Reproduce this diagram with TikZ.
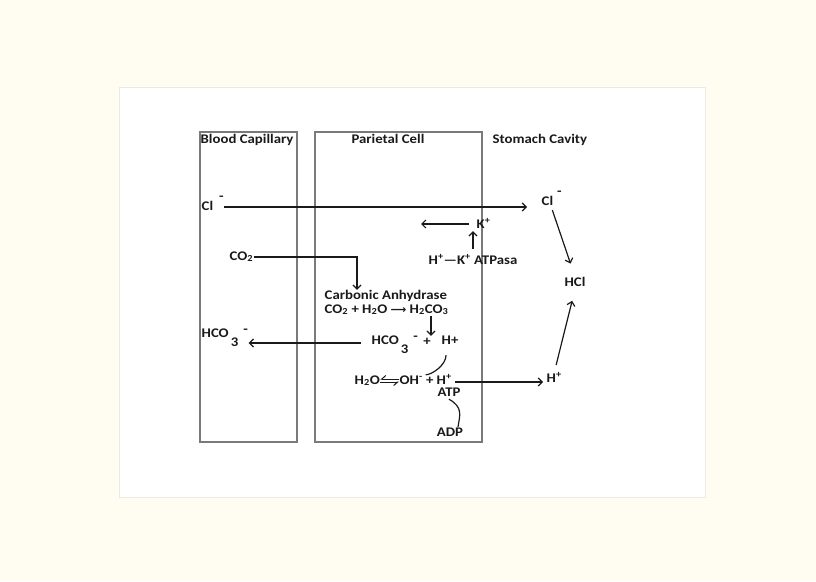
\documentclass[tikz,border=0pt]{standalone}
\usepackage{fontspec}
\setmainfont[FakeStretch=1.12]{Carlito}
\newfontfamily\arrowfont{DejaVu Sans}
\usetikzlibrary{arrows.meta}
\definecolor{pagebg}{HTML}{FFFDF2}
\definecolor{panelline}{HTML}{EAEAEA}
\definecolor{wallline}{HTML}{7A7A7A}
\definecolor{inkcol}{HTML}{1A1A1A}
\newcommand{\chg}{\raisebox{10pt}{-}}
\newcommand{\hcoion}{HCO\,\raisebox{-9pt}{3}\hspace{5pt}\raisebox{4pt}{-}}
\newcommand{\pl}{\textsuperscript{+}}
\begin{document}
\begin{tikzpicture}[x=1pt,y=-1pt,every node/.style={font=\fontsize{13.2}{15}\selectfont\bfseries,text=inkcol,inner sep=0.5pt,text height=8.5pt,text depth=2.5pt},wall/.style={draw=wallline,line width=1.1pt},arr/.style={draw=inkcol,line width=1.2pt,-{Straight Barb[length=4pt,width=8pt]}},link/.style={draw=inkcol,line width=1.2pt},harp/.style={draw=inkcol,line width=1pt,-{Straight Barb[right,length=4pt,width=7pt]}}]
\useasboundingbox (0,0) rectangle (816,581);
\fill[pagebg] (0,0) rectangle (816,581);
\draw[panelline,fill=white] (119,87) rectangle (705,497);
% compartments
\draw[wall] (200,132) rectangle (297,442);
\draw[wall] (315,132) rectangle (482,442);
\node[anchor=west] (blood) at (200,140) {Blood Capillary};
\node (cell) at (388,140) {Parietal Cell};
\node[anchor=west] (stomach) at (492,140) {Stomach Cavity};
% ions
\node[anchor=west] (clL) at (201,207) {Cl\hspace{6pt}\chg};
\node[anchor=west] (clR) at (541,202) {Cl\hspace{4pt}\chg};
\node (hcl) at (575,283) {HCl};
\node[anchor=west] (kion) at (476,225) {K\pl};
\node (pump) at (473,261) {H\pl—K\pl\ ATPasa};
\node[anchor=west] (co2) at (229,257) {CO\textsubscript{2}};
\node[anchor=west] (carb) at (324,296) {Carbonic Anhydrase};
\node[anchor=west] (rxn) at (324,310) {CO\textsubscript{2} + H\textsubscript{2}O {\arrowfont\fontsize{11}{12}\selectfont ⟶} H\textsubscript{2}CO\textsubscript{3}};
\node[anchor=west] (hcoL) at (201,334) {\hcoion};
\node[anchor=west] (hcoM) at (371,341) {\hcoion};
\node (plusM) at (427,342) {+};
\node[anchor=west] (hM) at (441,341) {H+};
\node[anchor=west] (h2o) at (354,381) {H\textsubscript{2}O};
\node[anchor=west] (ohH) at (399,381) {OH\textsuperscript{-} + H\pl};
\node[anchor=west] (hR) at (546,379) {H\pl};
\node (atp) at (449,393) {ATP};
\node (adp) at (450,433) {ADP};
\coordinate (kEnd) at (421,224);
% transport
\draw[arr,shorten >=14pt] (clL.east) -- (clL.east -| clR.west);
\draw[arr,shorten <=2pt,shorten >=14pt] (clR.south) -- (hcl.north);
\draw[arr,shorten <=8pt,shorten >=12pt] (hR.north) -- (hcl.south);
\draw[arr,shorten <=7pt] ([yshift=1pt]kion.west) -- (kEnd);
\draw[arr,shorten <=6pt] (pump.north) -- (pump.north |- kion.south);
\draw[arr] (co2.east) -| ([xshift=33pt]carb.north west);
\draw[arr] ([xshift=4pt]plusM.north |- rxn.south) -- ([xshift=4pt]plusM.north);
\draw[arr,shorten <=10pt] ([yshift=-2pt]hcoM.west) -- ([yshift=-2pt]hcoM.west -| hcoL.east);
\draw[arr,shorten <=3pt,shorten >=3pt] ([yshift=-1pt]ohH.east) -- ([yshift=-1pt]ohH.east -| hR.west);
\draw[harp] ([yshift=2pt]ohH.west) -- ([yshift=2pt]h2o.east);
\draw[harp] ([yshift=-1pt]h2o.east) -- ([yshift=-1pt]ohH.west);
\draw[link] ([xshift=-4pt,yshift=-8pt]hM.south) .. controls +(0,10) and +(6,0) .. (ohH.north);
\draw[link] (atp.south) .. controls +(14,8) and +(2,-12) .. ([xshift=8pt]adp.north);
\end{tikzpicture}
\end{document}
